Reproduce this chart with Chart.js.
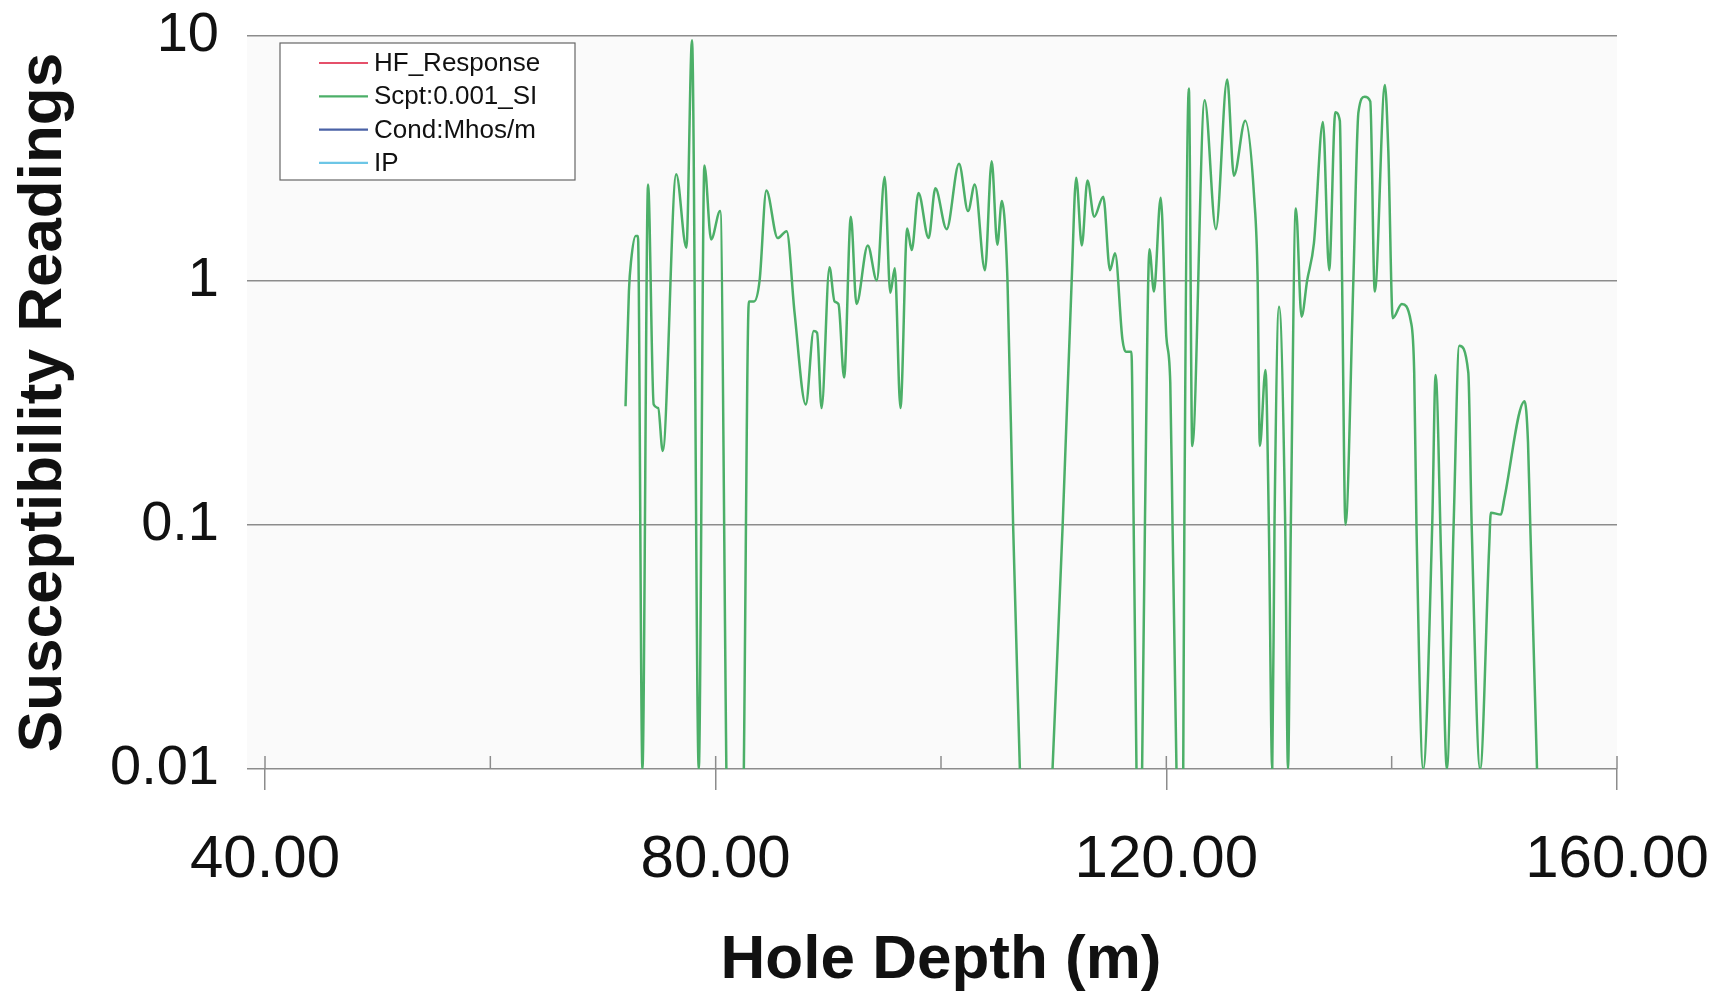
<!DOCTYPE html>
<html>
<head>
<meta charset="utf-8">
<script src="https://cdn.jsdelivr.net/npm/chart.js@4.4.1/dist/chart.umd.min.js"></script>
<style>
  html, body { margin: 0; padding: 0; background: #fff; }
  #wrap { width: 1717px; height: 995px; }
</style>
</head>
<body>
<div id="wrap"><canvas id="chart" width="1717" height="995"></canvas></div>
<script>
// hole depth (m) and magnetic susceptibility
// null = reading below the plot, line breaks there
const depth = [
    72.0, 72.3, 72.5, 72.9, 73.1, 73.5, 74.0, 74.5, 74.9, 75.3,
    76.5, 77.4, 77.9, 78.5, 79.0, 79.6, 80.4, 80.95, 81.7, 82.5,
    82.95, 83.4, 83.9, 84.5, 85.5, 86.3, 87.0, 88.0, 88.7, 89.0,
    89.4, 90.1, 90.55, 90.9, 91.4, 92.0, 92.5, 93.5, 94.3, 95.0,
    95.5, 95.9, 96.4, 97.0, 97.4, 98.0, 98.9, 99.5, 100.5, 101.6,
    102.4, 103.0, 103.9, 104.5, 105.0, 105.4, 105.9, 106.4, 107.0, 108.5,
    109.9, 110.8, 111.6, 112.0, 112.5, 113.0, 113.6, 114.4, 115.0, 115.45,
    116.1, 116.4, 116.9, 117.1, 117.35, 117.6, 117.85, 118.1, 118.5, 118.9,
    119.5, 120.0, 120.35, 120.55, 120.9, 121.2, 121.5, 121.6, 122.0, 122.3,
    123.4, 124.4, 125.4, 126.0, 127.0, 127.8, 128.1, 128.3, 128.8, 129.1,
    129.4, 129.6, 130.0, 130.55, 130.8, 131.05, 131.5, 132.0, 132.5, 133.1,
    133.9, 134.45, 135.0, 135.4, 135.6, 135.9, 136.6, 137.05, 137.6, 138.1,
    138.5, 139.4, 139.7, 140.1, 140.9, 141.7, 142.0, 142.2, 142.8, 143.6,
    143.9, 144.4, 144.9, 145.5, 146.0, 146.8, 147.1, 147.85, 148.65, 148.8,
    149.7, 150.0, 151.8, 152.1, 152.3, 152.9
];
const scpt = [
    0.305, 0.9, 1.21, 1.52, 1.52, 0.01, 2.47, 0.31, 0.30, 0.20,
    2.72, 1.36, 9.6, 0.01, 2.95, 1.47, 1.92, 0.01, null, 0.01,
    0.82, 0.82, 1.0, 2.33, 1.49, 1.59, 0.74, 0.31, 0.62, 0.61,
    0.30, 1.13, 0.82, 0.80, 0.40, 1.82, 0.80, 1.39, 1.0, 2.65,
    0.89, 1.12, 0.30, 1.63, 1.33, 2.28, 1.49, 2.38, 1.62, 3.0,
    1.92, 2.47, 1.10, 3.07, 1.40, 2.11, 1.0, 0.1, 0.01, null,
    0.01, 0.1, 1.0, 2.63, 1.39, 2.56, 1.82, 2.2, 1.1, 1.29,
    0.575, 0.51, 0.51, 0.1, 0.01, null, 0.01, 0.1, 1.34, 0.9,
    2.18, 0.59, 0.38, 0.1, 0.01, null, 0.01, 0.1, 6.1, 0.21,
    5.46, 1.62, 6.63, 2.68, 4.5, 2.17, 1.03, 0.21, 0.43, 0.1,
    0.01, 0.1, 0.78, 0.1, 0.01, 0.1, 1.97, 0.71, 1.0, 1.42,
    4.45, 1.1, 4.87, 4.5, 1.0, 0.1, 1.0, 4.87, 5.64, 5.4,
    0.9, 6.3, 3.41, 0.70, 0.80, 0.68, 0.42, 0.1, 0.01, 0.1,
    0.41, 0.07, 0.01, 0.1, 0.54, 0.42, 0.1, 0.01, 0.08, 0.112,
    0.11, 0.128, 0.32, 0.218, 0.1, 0.01
];
const yTicks = [0.01, 0.1, 1, 10];
const xTicks = [40, 60, 80, 100, 120, 140, 160];
const xLabelTicks = [40, 80, 120, 160];
const seriesNames = ['HF_Response', 'Scpt:0.001_SI', 'Cond:Mhos/m', 'IP'];
const seriesColors = ['#e5506a', '#4caf68', '#4a62a6', '#6cc6e6'];

const FONT = "'Liberation Sans', Arial, sans-serif";
const GRID = '#8c8c8c';

// light grey plot background
const plotBg = {
    id: 'plotBg',
    beforeDraw(chart) {
        const { ctx, chartArea: a } = chart;
        ctx.save();
        ctx.fillStyle = '#fafafa';
        ctx.fillRect(a.left - 18, a.top, a.right - a.left + 18, a.bottom - a.top);
        ctx.restore();
    }
};

// short tick marks above the x axis (every 20 m)
const upTicks = {
    id: 'upTicks',
    afterDraw(chart) {
        const { ctx, chartArea: a } = chart;
        const xs = chart.scales.x;
        ctx.save();
        ctx.strokeStyle = GRID;
        ctx.lineWidth = 1.5;
        xs.ticks.forEach(t => {
            const px = xs.getPixelForValue(t.value);
            ctx.beginPath();
            ctx.moveTo(px, a.bottom);
            ctx.lineTo(px, a.bottom - 13);
            ctx.stroke();
        });
        ctx.restore();
    }
};

// boxed legend in the top-left corner of the plot
const legendBox = {
    id: 'legendBox',
    afterDraw(chart) {
        const { ctx, chartArea: a } = chart;
        const left = a.left + 15, top = a.top + 7, w = 295, h = 137;
        ctx.save();
        ctx.fillStyle = '#ffffff';
        ctx.fillRect(left, top, w, h);
        ctx.strokeStyle = '#666';
        ctx.lineWidth = 1.2;
        ctx.strokeRect(left, top, w, h);
        ctx.font = '26px ' + FONT;
        ctx.textBaseline = 'middle';
        chart.data.datasets.forEach((ds, i) => {
            const y = top + 20 + i * 33.3;
            ctx.strokeStyle = ds.borderColor;
            ctx.lineWidth = 2.2;
            ctx.beginPath();
            ctx.moveTo(left + 39, y);
            ctx.lineTo(left + 88, y);
            ctx.stroke();
            ctx.fillStyle = '#111';
            ctx.fillText(ds.label, left + 94, y + 1);
        });
        ctx.restore();
    }
};

const datasets = seriesNames.map((name, i) => ({
    label: name,
    data: name === 'Scpt:0.001_SI' ? depth.map((d, k) => ({ x: d, y: scpt[k] })) : [],
    borderColor: seriesColors[i],
    backgroundColor: seriesColors[i],
    borderWidth: 2.5,
    pointRadius: 0,
    cubicInterpolationMode: 'monotone',
    fill: false
}));

new Chart(document.getElementById('chart'), {
    type: 'line',
    data: { datasets },
    options: {
        responsive: false,
        animation: false,
        layout: { padding: { top: 36, right: 100, left: 0, bottom: 0 } },
        plugins: {
            legend: { display: false },
            tooltip: { enabled: false }
        },
        scales: {
            x: {
                type: 'linear',
                min: 40,
                max: 160,
                afterBuildTicks: s => { s.ticks = xTicks.map(v => ({ value: v })); },
                afterFit: s => {
                    s.height = 226;
                    s.paddingLeft = 0;
                    s.paddingRight = 0;
                },
                ticks: {
                    color: '#111',
                    font: { family: FONT, size: 60 },
                    padding: 34,
                    maxRotation: 0,
                    autoSkip: false,
                    callback: v => xLabelTicks.includes(v) ? v.toFixed(2) : ''
                },
                grid: {
                    drawOnChartArea: false,
                    drawTicks: true,
                    tickLength: 21,
                    lineWidth: 1.5,
                    color: c => (c.tick && xLabelTicks.includes(c.tick.value)) ? GRID : 'rgba(0,0,0,0)'
                },
                border: { display: false },
                title: {
                    display: true,
                    text: 'Hole Depth (m)',
                    color: '#111',
                    font: { family: FONT, size: 62, weight: 'bold', lineHeight: 1 },
                    padding: { top: 0, bottom: 3 }
                }
            },
            y: {
                type: 'logarithmic',
                min: 0.01,
                max: 10,
                afterBuildTicks: s => { s.ticks = yTicks.map(v => ({ value: v })); },
                afterFit: s => {
                    s.width = 265;
                    s.paddingTop = 0;
                    s.paddingBottom = 0;
                },
                ticks: {
                    color: '#111',
                    font: { family: FONT, size: 56 },
                    padding: 28,
                    callback: v => String(v)
                },
                grid: {
                    color: GRID,
                    lineWidth: 1.5,
                    drawTicks: true,
                    tickLength: 18
                },
                border: { display: false },
                title: {
                    display: true,
                    text: 'Susceptibility Readings',
                    color: '#111',
                    font: { family: FONT, size: 62, weight: 'bold', lineHeight: 1 },
                    padding: { top: 13, bottom: 0 }
                }
            }
        }
    },
    plugins: [plotBg, upTicks, legendBox]
});
</script>
</body>
</html>
